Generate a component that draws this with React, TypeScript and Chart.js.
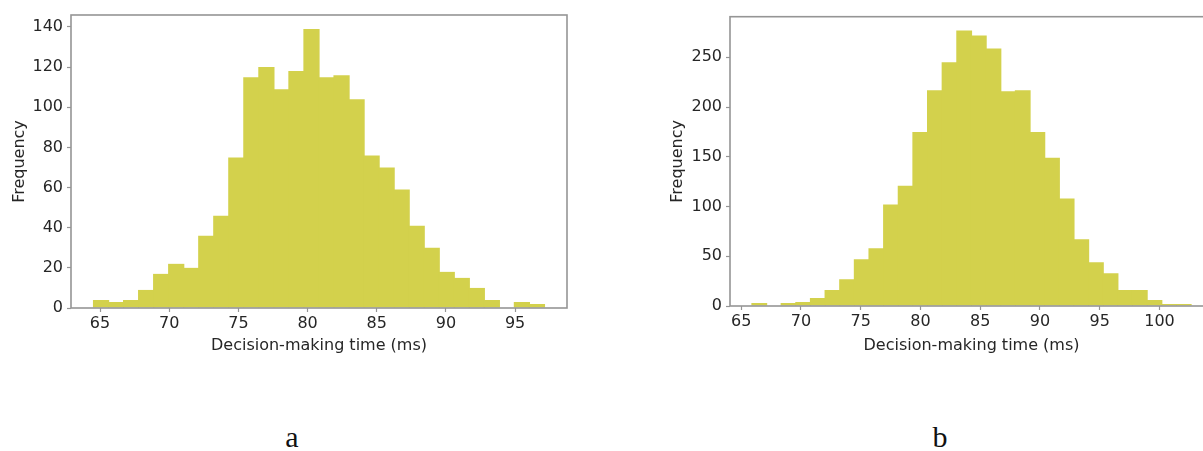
import React, { useEffect, useRef } from "react";
import { Chart, registerables } from "chart.js";

Chart.register(...registerables);

// ---- Data (histogram a) ----
const countsA = [4, 3, 4, 9, 17, 22, 20, 36, 46, 75, 115, 120, 109, 118, 139, 115, 116, 104, 76, 70, 59, 41, 30, 18, 15, 10, 4, 0, 3, 2];
const binRangeA = [64.53, 97.12];
const xTicksA = [65, 70, 75, 80, 85, 90, 95];
const yTicksA = [0, 20, 40, 60, 80, 100, 120, 140];

// ---- Data (histogram b) ----
const countsB = [3, 0, 3, 4, 8, 16, 27, 47, 58, 102, 121, 175, 217, 245, 277, 272, 259, 216, 217, 175, 149, 108, 67, 44, 33, 16, 16, 6, 2, 2];
const binRangeB = [65.9, 102.64];
const xTicksB = [65, 70, 75, 80, 85, 90, 95, 100];
const yTicksB = [0, 50, 100, 150, 200, 250];

const xLabel = "Decision-making time (ms)";
const yLabel = "Frequency";
const captions = ["a", "b"];

const BAR = "rgb(211, 209, 76)";
const SPINE = "#959595";
const TEXT = "#262626";
const FONT = "'DejaVu Sans', sans-serif";

type Area = { left: number; right: number; top: number; bottom: number };

const spinePlugin = {
  id: "spines",
  afterDatasetsDraw(chart: any) {
    const { ctx, chartArea } = chart;
    ctx.save();
    ctx.strokeStyle = SPINE;
    ctx.lineWidth = 1.6;
    ctx.strokeRect(chartArea.left, chartArea.top, chartArea.right - chartArea.left, chartArea.bottom - chartArea.top);
    ctx.restore();
  },
};

function Histogram(props: {
  counts: number[];
  range: number[];
  xTicks: number[];
  yTicks: number[];
  left: number;
  width: number;
  height: number;
  area: Area;
  yTitlePad: number;
}) {
  const ref = useRef<HTMLCanvasElement | null>(null);
  useEffect(() => {
    const { counts, range, xTicks, yTicks, width, height, area, yTitlePad } = props;
    const n = counts.length;
    const span = range[1] - range[0];
    const w = span / n;
    const data = counts.map((c, i) => ({ x: range[0] + (i + 0.5) * w, y: c }));
    const yMax = Math.max(...counts) * 1.05;
    const tickFont = { family: FONT, size: 16 };
    const chart = new Chart(ref.current as HTMLCanvasElement, {
      type: "bar",
      data: {
        datasets: [
          {
            data: data as any,
            backgroundColor: BAR,
            borderWidth: 0,
            inflateAmount: 0,
            barPercentage: 1.08,
            categoryPercentage: 1.0,
          } as any,
        ],
      },
      options: {
        responsive: false,
        animation: false,
        layout: { padding: { left: 0, top: area.top, right: width - area.right, bottom: 0 } },
        plugins: { legend: { display: false }, tooltip: { enabled: false } },
        scales: {
          x: {
            type: "linear",
            min: range[0] - 0.05 * span,
            max: range[1] + 0.05 * span,
            offset: false,
            grid: { display: true, drawOnChartArea: false, drawTicks: true, tickLength: 4, tickColor: SPINE, tickWidth: 1.2, offset: false },
            border: { display: false },
            ticks: { color: TEXT, font: tickFont, padding: 2, maxRotation: 0, autoSkip: false, callback: (v: any) => String(v) },
            title: { display: true, text: xLabel, color: TEXT, font: tickFont, padding: { top: 0, bottom: 5 } },
            afterBuildTicks: (s: any) => {
              s.ticks = xTicks.map((v) => ({ value: v }));
            },
            afterFit: (s: any) => {
              s.height = height - area.bottom;
            },
          } as any,
          y: {
            type: "linear",
            min: 0,
            max: yMax,
            grid: { display: true, drawOnChartArea: false, drawTicks: true, tickLength: 4, tickColor: SPINE, tickWidth: 1.2 },
            border: { display: false },
            ticks: { color: TEXT, font: tickFont, padding: 4, autoSkip: false, callback: (v: any) => String(v) },
            title: { display: true, text: yLabel, color: TEXT, font: tickFont, padding: { top: yTitlePad, bottom: 0 } },
            afterBuildTicks: (s: any) => {
              s.ticks = yTicks.map((v) => ({ value: v }));
            },
            afterFit: (s: any) => {
              s.width = area.left;
            },
          } as any,
        },
      },
      plugins: [spinePlugin],
    });
    return () => chart.destroy();
  }, []);
  return (
    <canvas
      ref={ref}
      width={props.width}
      height={props.height}
      style={{ position: "absolute", left: props.left, top: 0, width: props.width, height: props.height }}
    />
  );
}

export default function App() {
  const captionStyle = (cx: number): React.CSSProperties => ({
    position: "absolute",
    left: cx - 50,
    width: 100,
    top: 422,
    textAlign: "center",
    fontFamily: "'Liberation Serif', 'Times New Roman', serif",
    fontSize: 30,
    lineHeight: "30px",
    color: "#111",
  });
  return (
    <div style={{ position: "absolute", left: 0, top: 0, width: 1203, height: 451, overflow: "hidden", background: "#fff" }}>
      <Histogram
        counts={countsA}
        range={binRangeA}
        xTicks={xTicksA}
        yTicks={yTicksA}
        left={0}
        width={600}
        height={360}
        area={{ left: 71, right: 567, top: 15, bottom: 308 }}
        yTitlePad={10.4}
      />
      <Histogram
        counts={countsB}
        range={binRangeB}
        xTicks={xTicksB}
        yTicks={yTicksB}
        left={650}
        width={580}
        height={360}
        area={{ left: 80, right: 563, top: 16.7, bottom: 306 }}
        yTitlePad={18.4}
      />
      <div style={captionStyle(292)}>{captions[0]}</div>
      <div style={captionStyle(940)}>{captions[1]}</div>
    </div>
  );
}
